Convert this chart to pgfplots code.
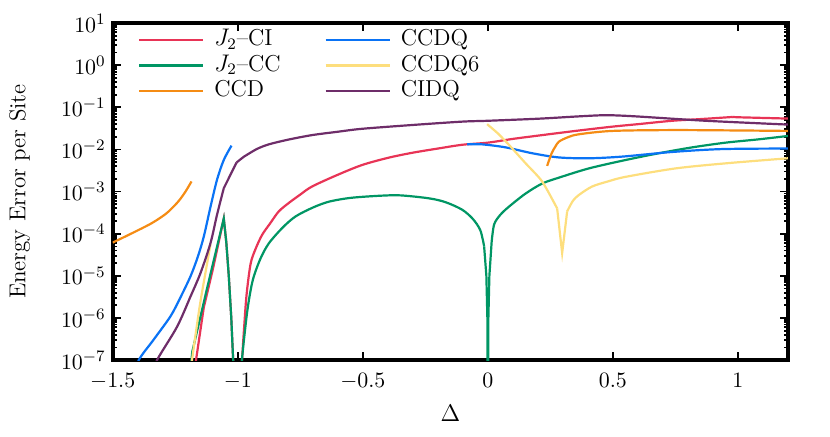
\documentclass[border=0pt]{standalone}
\usepackage{pgfplots}
\pgfplotsset{compat=1.18}

\definecolor{cired}{RGB}{232,52,86}
\definecolor{ccgreen}{RGB}{0,150,100}
\definecolor{ccdorange}{RGB}{245,140,20}
\definecolor{ccdqblue}{RGB}{10,115,245}
\definecolor{qsixyellow}{RGB}{253,222,125}
\definecolor{cidqpurple}{RGB}{110,45,105}

\begin{document}
\begin{tikzpicture}[font=\fontsize{11.5}{13.8}\selectfont]
\useasboundingbox (-56.35pt,-38pt) rectangle (358.5pt,180pt);
\begin{axis}[
    at={(0,0)}, anchor=south west,
    scale only axis,
    width=337.5pt, height=168.5pt,
    ymode=log,
    xmin=-1.5, xmax=1.2,
    ymin=1e-7, ymax=1e1,
    xtick={-1.5,-1,-0.5,0,0.5,1},
    ytick={1e-7,1e-6,1e-5,1e-4,1e-3,1e-2,1e-1,1e0,1e1},
    tick pos=both,
    tick align=inside,
    major tick length=4pt,
    minor tick length=2pt,
    tick style={black, line width=0.9pt},
    axis line style={line width=1.9pt},
    tick label style={font=\fontsize{11}{13}\selectfont},
    xticklabel style={yshift=-3pt},
    xlabel={$\Delta$},
    ylabel={Energy Error per Site},
    xlabel style={at={(axis description cs:0.5,-0.157)}, anchor=center},
    ylabel style={at={(axis description cs:-0.138,0.5)}, anchor=center},
    every axis plot/.append style={line width=1.1pt},
    legend image code/.code={\draw[#1] (0pt,0pt) -- (32pt,0pt);},
    legend style={
        draw=none, fill=none,
        at={(axis description cs:0.0375,0.988)}, anchor=north west,
        inner sep=0pt, outer sep=0pt,
        nodes={inner sep=1pt, text height=8.2pt, text depth=2.6pt},
        /tikz/every odd column/.append style={column sep=4pt},
        /tikz/every even column/.append style={column sep=21pt},
    },
    legend columns=2,
    legend cell align=left,
]

% J2-CI
\addplot[cired] coordinates {
(-1.172,5.0e-8) (-1.167,1e-7) (-1.136,1.78e-6) (-1.10,1.41e-5) (-1.056,2.29e-4)
(-1.046,6.31e-5) (-1.036,1e-5) (-1.026,1e-6) (-1.017,6.3e-8) (-1.0,1e-9)
};
\addlegendentry{$J_2$--CI}

% CCDQ
\addplot[ccdqblue, smooth, tension=0.5] coordinates {
(-1.41,3.98e-8) (-1.396,1e-7) (-1.336,3.09e-7) (-1.269,1.10e-6) (-1.23,3.02e-6)
(-1.189,9.77e-6) (-1.16,2.82e-5) (-1.136,8.51e-5) (-1.109,4.37e-4) (-1.083,1.91e-3)
(-1.056,5.62e-3) (-1.025,1.23e-2)
};
\addlegendentry{CCDQ}

% J2-CC
\addplot[ccgreen] coordinates {
(-1.192,3.98e-8) (-1.182,1.58e-7) (-1.123,5.01e-6) (-1.056,2.29e-4)
(-1.046,6.31e-5) (-1.036,1e-5) (-1.026,1e-6) (-1.017,6.31e-8) (-1.003,1e-9)
};
\addlegendentry{$J_2$--CC}

% CCDQ6
\addplot[qsixyellow, smooth, tension=0.5] coordinates {
(-1.19,3.98e-8) (-1.183,1e-7) (-1.153,1.78e-6) (-1.13,1.12e-5) (-1.109,5.62e-5)
};
\addlegendentry{CCDQ6}

% CCD
\addplot[ccdorange, smooth, tension=0.5] coordinates {
(-1.5,6.17e-5) (-1.424,1.02e-4) (-1.344,1.78e-4) (-1.288,2.95e-4) (-1.262,4.1e-4)
(-1.236,6.0e-4) (-1.21,9.8e-4) (-1.185,1.74e-3)
};
\addlegendentry{CCD}

% CIDQ
\addplot[cidqpurple, smooth, tension=0.5] coordinates {
(-1.335,5.01e-8) (-1.323,1e-7) (-1.243,6.17e-7) (-1.189,3.24e-6) (-1.149,1.17e-5)
(-1.109,6.03e-5) (-1.083,2.82e-4) (-1.056,1.20e-3)
};
\addlegendentry{CIDQ}

% remaining branches (no legend entries)
\addplot[cired, smooth, tension=0.5, forget plot] coordinates {
(-0.99,2e-8) (-0.983,1e-7) (-0.975,5.5e-7) (-0.965,3.5e-6) (-0.949,1.9e-5)
(-0.93,4.2e-5) (-0.903,9.33e-5) (-0.87,1.78e-4) (-0.836,3.39e-4) (-0.796,5.37e-4)
(-0.75,8.5e-4) (-0.703,1.32e-3) (-0.6,2.51e-3) (-0.503,4.27e-3) (-0.4,6.31e-3)
(-0.303,8.32e-3) (-0.2,1.05e-2) (-0.103,1.29e-2) (0,1.45e-2) (0.1,1.78e-2)
(0.204,2.14e-2) (0.35,2.75e-2) (0.497,3.47e-2) (0.6,3.98e-2) (0.737,4.79e-2)
(0.85,5.25e-2) (0.977,5.89e-2)
};
\addplot[cired, forget plot] coordinates {
(0.977,5.89e-2) (1.0,5.8e-2) (1.2,5.4e-2)
};
\addplot[ccgreen, smooth, tension=0.5, forget plot] coordinates {
(-0.99,3e-8) (-0.985,8e-8) (-0.975,3.16e-7) (-0.96,1.78e-6) (-0.94,7.94e-6)
(-0.91,2.51e-5) (-0.876,5.89e-5) (-0.82,1.41e-4) (-0.769,2.57e-4) (-0.7,4.17e-4)
(-0.636,5.75e-4) (-0.55,7.08e-4) (-0.436,7.94e-4) (-0.35,8.13e-4) (-0.236,6.92e-4)
(-0.17,5.62e-4) (-0.103,3.72e-4) (-0.06,2.24e-4) (-0.03,1.2e-4) (-0.015,5.01e-5)
};
\addplot[ccgreen, forget plot] coordinates {
(-0.015,5.01e-5) (-0.006,1e-5) (-0.002,1e-6) (0,1e-9) (0.002,1e-6) (0.006,1e-5)
(0.015,6.31e-5)
};
\addplot[ccgreen, smooth, tension=0.5, forget plot] coordinates {
(0.015,6.31e-5) (0.025,1.66e-4) (0.05,2.82e-4) (0.084,4.37e-4) (0.15,8.91e-4)
(0.217,1.55e-3) (0.284,2.14e-3) (0.404,3.55e-3) (0.551,5.62e-3) (0.684,8.13e-3)
(0.817,1.12e-2) (0.951,1.45e-2) (1.084,1.74e-2) (1.2,2.09e-2)
};
\addplot[cidqpurple, forget plot] coordinates {
(-1.056,1.20e-3) (-1.005,4.90e-3)
};
\addplot[cidqpurple, smooth, tension=0.5, forget plot] coordinates {
(-1.005,4.90e-3) (-0.975,6.76e-3) (-0.956,7.94e-3) (-0.92,1.05e-2) (-0.876,1.32e-2)
(-0.8,1.70e-2) (-0.703,2.19e-2) (-0.6,2.63e-2) (-0.503,3.09e-2) (-0.303,3.80e-2)
(-0.103,4.57e-2) (0,4.79e-2) (0.204,5.37e-2) (0.35,6.03e-2) (0.45,6.46e-2)
(0.5,6.46e-2) (0.604,6.03e-2) (0.871,4.79e-2) (1.2,3.89e-2)
};
\addplot[ccdqblue, smooth, tension=0.5, forget plot] coordinates {
(-0.083,1.32e-2) (-0.023,1.32e-2) (0.071,1.12e-2) (0.177,8.13e-3) (0.284,6.46e-3)
(0.404,6.17e-3) (0.537,6.76e-3) (0.737,8.71e-3) (0.937,1.02e-2) (1.2,1.05e-2)
};
\addplot[qsixyellow, smooth, tension=0.4, forget plot] coordinates {
(-0.003,3.98e-2) (0.04,2.40e-2) (0.084,1.29e-2) (0.151,4.68e-3) (0.217,1.74e-3)
(0.277,3.98e-4)
};
\addplot[qsixyellow, forget plot] coordinates {
(0.277,3.98e-4) (0.297,3.47e-5) (0.317,3.39e-4)
};
\addplot[qsixyellow, smooth, tension=0.5, forget plot] coordinates {
(0.317,3.39e-4) (0.34,6.03e-4) (0.364,8.32e-4) (0.417,1.32e-3) (0.48,1.74e-3)
(0.551,2.24e-3) (0.751,3.55e-3) (0.951,4.68e-3) (1.2,6.17e-3)
};
\addplot[ccdorange, smooth, tension=0.5, forget plot] coordinates {
(0.237,4.07e-3) (0.255,8.13e-3) (0.27,1.17e-2) (0.284,1.53e-2) (0.32,1.95e-2)
(0.364,2.29e-2) (0.497,2.75e-2) (0.737,2.88e-2) (1.0,2.82e-2) (1.2,2.75e-2)
};

\end{axis}
\end{tikzpicture}
\end{document}
